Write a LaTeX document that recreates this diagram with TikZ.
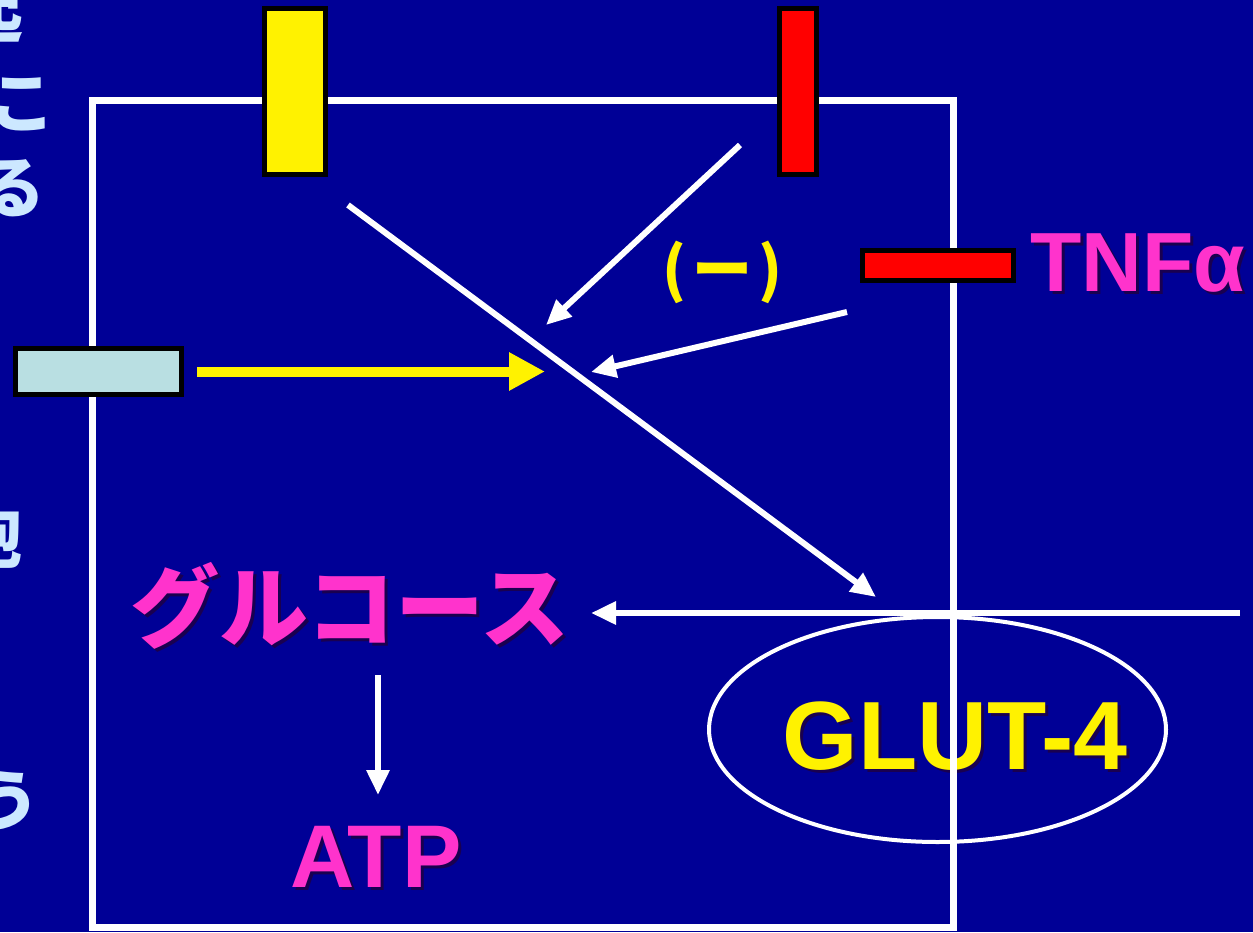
\documentclass[tikz,border=0pt]{standalone}
\usepackage{fontspec}
\setmainfont{Liberation Sans}
\newfontfamily\jp{Noto Sans CJK JP}
\usetikzlibrary{arrows.meta,shapes.geometric}
\definecolor{bg}{RGB}{0,0,150}
\definecolor{mag}{RGB}{255,51,204}
\definecolor{lbl}{RGB}{185,223,226}
\definecolor{frag}{RGB}{204,232,255}
\definecolor{shd}{RGB}{25,0,80}
\tikzset{
  bar/.style={rectangle, draw=black, line width=2.5pt, inner sep=0pt},
  wline/.style={draw=white, line width=3pt, -{Triangle[length=12.5pt,width=11pt]}},
  yline/.style={draw=yellow, line width=5pt, -{Triangle[length=18pt,width=18pt]}},
  lab/.style={inner sep=0pt, font=\bfseries\fontsize{#1}{#1}\selectfont},
  jlab/.style={inner sep=0pt, font=\jp\bfseries\fontsize{#1}{#1}\selectfont},
  fragtxt/.style={inner sep=0pt, anchor=base, text=frag, font=\jp\bfseries\fontsize{33.5pt}{33.5pt}\selectfont},
}
\begin{document}
\begin{tikzpicture}[x=0.5pt,y=-0.5pt]
\useasboundingbox (0,0) rectangle (1253,932);
\clip (0,0) rectangle (1253,932);
\fill[bg] (0,0) rectangle (1253,932);

% cut-off vertical text at the left edge
\node[fragtxt] (f1) at (-10,37) {起};
\node[fragtxt] (f2) at (22,127) {こ};
\node[fragtxt] (f3) at (12,212) {る};
\node[fragtxt] (f4) at (-11,562) {胞};
\node[fragtxt] (f5) at (7,825) {う};

% texts (with shadows)
\node[jlab=44.5pt, anchor=base, text=shd] (glucs) at (353,643) {グルコース};
\node[jlab=44.5pt, anchor=base, text=mag] (gluc) at (350,640) {グルコース};
\node[lab=44.5pt, text=shd] (atps) at (379,859.5) {ATP};
\node[lab=44.5pt, text=mag] (atp) at (376,856.5) {ATP};
\node[lab=48.5pt, text=shd] (gluts) at (958,739) {GLUT-4};
\node[lab=48.5pt, text=yellow] (glut) at (955,736) {GLUT-4};
\node[lab=42pt, text=shd] (tnfs) at (1141,266.5) {TNFα};
\node[lab=42pt, text=mag] (tnf) at (1138,263.5) {TNFα};
\node[inner sep=0pt, anchor=base, text=yellow, font=\jp\bfseries\fontsize{30pt}{30pt}\selectfont] (neg) at (722,291) {(\kern3ptー\kern3pt)};

% GLUT-4 ellipse
\node[ellipse, draw=white, line width=2pt, inner sep=0pt, minimum width=228.5pt, minimum height=112.5pt] (glutring) at (937.5,729.5) {};

% cell membrane
\node[rectangle, draw=white, line width=3.5pt, inner sep=0pt, minimum width=430.5pt, minimum height=413.5pt] (cell) at (522.5,513.5) {};

% receptors
\node[bar, fill=yellow, minimum width=30.5pt, minimum height=83pt] (insr) at (295,91.5) {};
\node[bar, fill=red, minimum width=18.5pt, minimum height=83pt] (redv) at (798,91.5) {};
\node[bar, fill=red, minimum width=75.5pt, minimum height=15pt] (redh) at (938,265.5) {};
\node[bar, fill=lbl, minimum width=83pt, minimum height=23pt] (lbar) at (98.5,371.5) {};

% arrow end points
\coordinate (yend) at (545,371.5);
\coordinate (d1) at (348,205);
\coordinate (d2) at (876,597);
\coordinate (r1) at (740,145);
\coordinate (r2) at (546,325);
\coordinate (t1) at (847,312);
\coordinate (t2) at (591,372);
\coordinate (h1) at (1240,613);
\coordinate (h2) at (591,613);
\coordinate (a1) at (378,675);
\coordinate (a2) at (378,795);

\draw[yline, shorten <=6.5pt] (lbar.east) -- (yend);
\draw[wline] (d1) -- (d2);
\draw[wline] (r1) -- (r2);
\draw[wline] (t1) -- (t2);
\draw[wline] (h1) -- (h2);
\draw[wline] (a1) -- (a2);
\end{tikzpicture}
\end{document}
